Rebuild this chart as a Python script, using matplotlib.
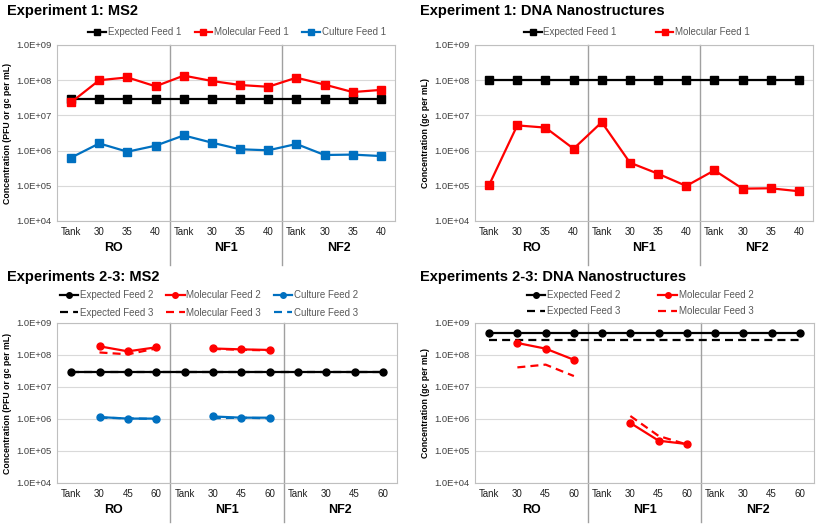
import numpy as np
import matplotlib
matplotlib.use('Agg')
import matplotlib.pyplot as plt
from matplotlib.ticker import FixedLocator, NullLocator

plt.rcParams['font.family'] = ['Liberation Sans', 'DejaVu Sans']

nan = np.nan

# top row categories
cats1 = ['Tank', '30', '35', '40'] * 3
cats2 = ['Tank', '30', '45', '60'] * 3
groups = ['RO', 'NF1', 'NF2']

# Experiment 1: MS2
ms2_expected1 = [3e7] * 12
ms2_molecular1 = [2.35e7, 1.0e8, 1.2e8, 6.7e7, 1.35e8, 9.5e7, 7.3e7, 6.5e7, 1.18e8, 7.5e7, 4.6e7, 5.3e7]
ms2_culture1 = [6.3e5, 1.6e6, 9.3e5, 1.38e6, 2.7e6, 1.68e6, 1.09e6, 1.02e6, 1.54e6, 7.5e5, 7.7e5, 7.0e5]

# Experiment 1: DNA nanostructures
dna_expected1 = [1e8] * 12
dna_molecular1 = [1.05e5, 5.2e6, 4.5e6, 1.13e6, 6.4e6, 4.55e5, 2.2e5, 9.9e4, 2.75e5, 8.3e4, 8.5e4, 7.0e4]

# Experiments 2-3: MS2
ms2_expected2 = [3e7] * 12
ms2_expected3 = [3e7] * 12
ms2_molecular2 = [nan, 1.87e8, 1.3e8, 1.74e8, nan, 1.6e8, 1.5e8, 1.44e8, nan, nan, nan, nan]
ms2_molecular3 = [nan, 1.2e8, 1.05e8, 1.6e8, nan, 1.55e8, 1.45e8, 1.4e8, nan, nan, nan, nan]
ms2_culture2 = [nan, 1.15e6, 1.03e6, 1.03e6, nan, 1.2e6, 1.1e6, 1.1e6, nan, nan, nan, nan]
ms2_culture3 = [nan, 1.1e6, 1.05e6, 1.0e6, nan, 1.05e6, 1.1e6, 1.05e6, nan, nan, nan, nan]

# Experiments 2-3: DNA nanostructures
dna_expected2 = [5e8] * 12
dna_expected3 = [3e8] * 12
dna_molecular2 = [nan, 2.37e8, 1.58e8, 7.1e7, nan, 7.5e5, 2.1e5, 1.65e5, nan, nan, nan, nan]
dna_molecular3 = [nan, 4.1e7, 5.0e7, 2.2e7, nan, 1.24e6, 2.95e5, 1.6e5, nan, nan, nan, nan]

RED = '#FF0000'
BLUE = '#0070C0'
BLACK = '#000000'
DASH = (0, (3.6, 2.3))

W, H = 817, 524
fig = plt.figure(figsize=(W / 100, H / 100), dpi=100)


def make_ax(l, r, t, b):
    return fig.add_axes([l / W, 1 - b / H, (r - l) / W, (b - t) / H])


def style(ax, cats, ylabel, sep_ext):
    x = np.arange(12)
    ax.set_yscale('log')
    ax.set_ylim(1e4, 1e9)
    ax.set_xlim(-0.5, 11.5)
    ax.yaxis.set_major_locator(FixedLocator([1e4, 1e5, 1e6, 1e7, 1e8, 1e9]))
    ax.yaxis.set_minor_locator(NullLocator())
    ax.set_yticklabels(['1.0E+04', '1.0E+05', '1.0E+06', '1.0E+07', '1.0E+08', '1.0E+09'],
                       fontsize=6.8, color='#404040')
    ax.set_xticks(x)
    ax.set_xticklabels(cats, fontsize=7, color='#202020')
    ax.tick_params(length=0, pad=4)
    ax.grid(axis='y', color='#D9D9D9', linewidth=0.8)
    ax.set_axisbelow(True)
    for s in ax.spines.values():
        s.set_color('#BFBFBF')
        s.set_linewidth(0.8)
    ax.set_ylabel(ylabel, fontsize=6.3, fontweight='bold', labelpad=3)
    tr = ax.get_xaxis_transform()
    for xs in [3.5, 7.5]:
        ax.plot([xs, xs], [1, -sep_ext], transform=tr, color='#A0A0A0',
                linewidth=1.0, clip_on=False, zorder=1)
    for i, g in enumerate(groups):
        ax.text(1.5 + 4 * i, -0.155 if sep_ext > 0.245 else -0.17, g, transform=tr,
                ha='center', va='center', fontsize=9, fontweight='bold')


def title(x, y, s):
    fig.text(x / W, 1 - y / H, s, fontsize=10.5, fontweight='bold', ha='left', va='center')


x = np.arange(12)

# panel 1
ax1 = make_ax(57, 395, 45, 221)
style(ax1, cats1, 'Concentration (PFU or gc per mL)', 0.25)
ax1.plot(x, ms2_expected1, color=BLACK, marker='s', markersize=5.5, lw=1.6, label='Expected Feed 1')
ax1.plot(x, ms2_molecular1, color=RED, marker='s', markersize=5.5, lw=1.6, label='Molecular Feed 1')
ax1.plot(x, ms2_culture1, color=BLUE, marker='s', markersize=5.5, lw=1.6, label='Culture Feed 1')
ax1.legend(loc='center', bbox_to_anchor=(237 / W, 1 - 32 / H), bbox_transform=fig.transFigure,
           ncol=3, frameon=False, fontsize=7, labelcolor='#595959', handlelength=1.8,
           handletextpad=0.2, columnspacing=1.4, borderpad=0, markerscale=0.8)
title(7, 11, 'Experiment 1: MS2')

# panel 2
ax2 = make_ax(475, 813, 45, 221)
style(ax2, cats1, 'Concentration (gc per mL)', 0.25)
ax2.plot(x, dna_expected1, color=BLACK, marker='s', markersize=5.5, lw=1.6, label='Expected Feed 1')
ax2.plot(x, dna_molecular1, color=RED, marker='s', markersize=5.5, lw=1.6, label='Molecular Feed 1')
ax2.legend(loc='center', bbox_to_anchor=(637 / W, 1 - 32 / H), bbox_transform=fig.transFigure,
           ncol=2, frameon=False, fontsize=7, labelcolor='#595959', handlelength=1.8,
           handletextpad=0.2, columnspacing=4.0, borderpad=0, markerscale=0.8)
title(420, 11, 'Experiment 1: DNA Nanostructures')

# panel 3
ax3 = make_ax(57, 397, 323, 483)
style(ax3, cats2, 'Concentration (PFU or gc per mL)', 0.245)
h_e2, = ax3.plot(x, ms2_expected2, color=BLACK, marker='o', markersize=5, lw=1.6, label='Expected Feed 2')
h_e3, = ax3.plot(x, ms2_expected3, color=BLACK, ls=DASH, lw=1.6, label='Expected Feed 3', zorder=1.5)
h_m2, = ax3.plot(x, ms2_molecular2, color=RED, marker='o', markersize=5, lw=1.6, label='Molecular Feed 2')
h_m3, = ax3.plot(x, ms2_molecular3, color=RED, ls=DASH, lw=1.6, label='Molecular Feed 3', zorder=1.5)
h_c2, = ax3.plot(x, ms2_culture2, color=BLUE, marker='o', markersize=5, lw=1.6, label='Culture Feed 2')
h_c3, = ax3.plot(x, ms2_culture3, color=BLUE, ls=DASH, lw=1.6, label='Culture Feed 3', zorder=1.5)
ax3.legend(handles=[h_e2, h_e3, h_m2, h_m3, h_c2, h_c3], loc='center',
           bbox_to_anchor=(209 / W, 1 - 304 / H), bbox_transform=fig.transFigure,
           ncol=3, frameon=False, fontsize=7, labelcolor='#595959', handlelength=1.9,
           handletextpad=0.2, columnspacing=1.3, borderpad=0, labelspacing=0.75, markerscale=0.8)
title(7, 277, 'Experiments 2-3: MS2')

# panel 4
ax4 = make_ax(475, 814, 323, 483)
style(ax4, cats2, 'Concentration (gc per mL)', 0.245)
h_e2, = ax4.plot(x, dna_expected2, color=BLACK, marker='o', markersize=5, lw=1.6, label='Expected Feed 2')
h_e3, = ax4.plot(x, dna_expected3, color=BLACK, ls=DASH, lw=1.6, label='Expected Feed 3')
h_m2, = ax4.plot(x, dna_molecular2, color=RED, marker='o', markersize=5, lw=1.6, label='Molecular Feed 2')
h_m3, = ax4.plot(x, dna_molecular3, color=RED, ls=DASH, lw=1.6, label='Molecular Feed 3')
ax4.legend(handles=[h_e2, h_e3, h_m2, h_m3], loc='center',
           bbox_to_anchor=(640 / W, 1 - 303 / H), bbox_transform=fig.transFigure,
           ncol=2, frameon=False, fontsize=7, labelcolor='#595959', handlelength=1.9,
           handletextpad=0.2, columnspacing=3.9, borderpad=0, labelspacing=0.6, markerscale=0.8)
title(420, 277, 'Experiments 2-3: DNA Nanostructures')

fig.savefig('out.png', dpi=100)
